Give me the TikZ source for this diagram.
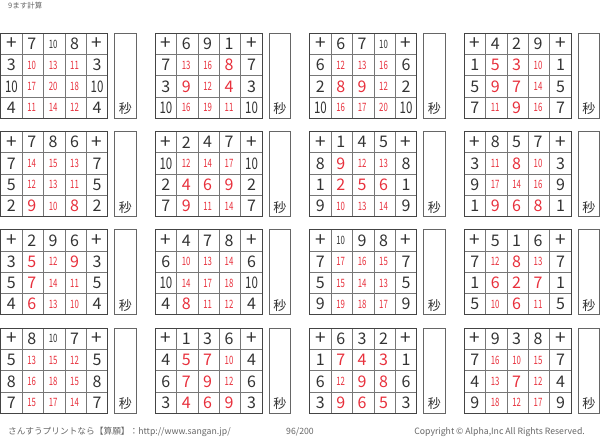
\documentclass[tikz,border=0pt]{standalone}
\usepackage{fontspec}
\setmainfont{Noto Sans CJK JP}
\usepackage{graphicx}
\definecolor{ansred}{HTML}{E8303C}
\definecolor{ink}{HTML}{333333}
\definecolor{outerline}{HTML}{444444}
\definecolor{innerline}{HTML}{777777}
\definecolor{boxline}{HTML}{666666}
\definecolor{footgray}{HTML}{666666}
\tikzset{
  cellnum/.style={inner sep=0pt, anchor=center},
  bignum/.style={cellnum, font=\fontsize{16}{16}\selectfont},
  plusnum/.style={cellnum, font=\fontsize{19}{19}\selectfont},
  smallnum/.style={cellnum, font=\fontsize{11.5}{11.5}\selectfont},
  blacknum/.style={text=ink},
  rednum/.style={text=ansred},
  outerframe/.style={draw=outerline, line width=1pt},
  innerrule/.style={draw=innerline, line width=0.8pt},
  timebox/.style={draw=boxline, line width=1pt},
  secmark/.style={inner sep=0pt, text=ink, font=\fontsize{13}{13}\selectfont},
  foot/.style={inner sep=0pt, text=footgray, font=\fontsize{8.7}{8.7}\selectfont},
  titletext/.style={inner sep=0pt, text=footgray, font=\fontsize{7.5}{7.5}\selectfont},
}
\begin{document}
\begin{tikzpicture}[x=1pt,y=-1pt]
\useasboundingbox (0,0) rectangle (600,439);
\fill[white] (0,0) rectangle (600,439);
\def\cw{21.4}
\def\ch{21.25}
\foreach \g/\a/\b/\c/\p/\q/\r in {
  1/7/10/8/3/10/4, 2/6/9/1/7/3/10, 3/6/7/10/6/2/10, 4/4/2/9/1/5/7,
  5/7/8/6/7/5/2, 6/2/4/7/10/2/7, 7/1/4/5/8/1/9, 8/8/5/7/3/9/1,
  9/2/9/6/3/5/4, 10/4/7/8/6/10/4, 11/10/9/8/7/5/9, 12/5/1/6/7/1/5,
  13/8/10/7/5/8/7, 14/1/3/6/4/6/3, 15/6/3/2/1/6/3, 16/9/3/8/7/4/9}{
  \pgfmathsetmacro\gx{0.7+154.5*mod(\g-1,4)}
  \pgfmathsetmacro\gy{33.3+98.3*int((\g-1)/4)}
  % inner rules
  \foreach \k in {1,2,3,4}{
    \draw[innerrule] (\gx+\k*\cw,\gy) -- ++(0,85);
  }
  \foreach \k in {1,2,3}{
    \draw[innerrule] (\gx,\gy+\k*\ch) -- ++(107,0);
  }
  \draw[outerframe] (\gx,\gy) rectangle ++(107,85);
  % header row
  \node[plusnum,blacknum] (g\g-0-0) at (\gx+0.5*\cw,\gy+0.5*\ch) {+};
  \node[plusnum,blacknum] (g\g-0-4) at (\gx+4.5*\cw,\gy+0.5*\ch) {+};
  \foreach \v [count=\k] in {\a,\b,\c}{
    \ifnum\v<10
      \node[bignum,blacknum] (g\g-0-\k) at (\gx+\k*\cw+0.45*\cw,\gy+0.5*\ch) {\v};
    \else
      \node[smallnum,blacknum] (g\g-0-\k) at (\gx+\k*\cw+0.45*\cw,\gy+0.5*\ch) {\scalebox{0.68}[1]{\v}};
    \fi
  }
  % rows
  \foreach \w [count=\m] in {\p,\q,\r}{
    \ifnum\w<10
      \node[bignum,blacknum] (g\g-\m-0) at (\gx+0.5*\cw,\gy+\m*\ch+0.5*\ch) {\w};
      \node[bignum,blacknum] (g\g-\m-4) at (\gx+4.5*\cw,\gy+\m*\ch+0.5*\ch) {\w};
    \else
      \node[bignum,blacknum] (g\g-\m-0) at (\gx+0.5*\cw,\gy+\m*\ch+0.5*\ch) {\scalebox{0.72}[1]{\w}};
      \node[bignum,blacknum] (g\g-\m-4) at (\gx+4.5*\cw,\gy+\m*\ch+0.5*\ch) {\scalebox{0.72}[1]{\w}};
    \fi
    \foreach \v [count=\k] in {\a,\b,\c}{
      \pgfmathtruncatemacro\s{\v+\w}
      \ifnum\s<10
        \node[bignum,rednum] (g\g-\m-\k) at (\gx+\k*\cw+0.45*\cw,\gy+\m*\ch+0.5*\ch) {\s};
      \else
        \node[smallnum,rednum] (g\g-\m-\k) at (\gx+\k*\cw+0.45*\cw,\gy+\m*\ch+0.5*\ch) {\scalebox{0.68}[1]{\s}};
      \fi
    }
  }
  % time box
  \draw[timebox] (\gx+114,\gy) rectangle ++(21.5,85);
  \node[secmark] (sec\g) at (\gx+124.6,\gy+75.5) {秒};
}
\node[titletext, anchor=west] (title) at (8,6) {9ます計算};
\node[foot, anchor=west] (site) at (8,432) {さんすうプリントなら【算願】：http://www.sangan.jp/};
\node[foot] (page) at (300,432) {96/200};
\node[foot, anchor=east] (copy) at (585,432) {Copyright © Alpha,Inc All Rights Reserved.};
\end{tikzpicture}
\end{document}
